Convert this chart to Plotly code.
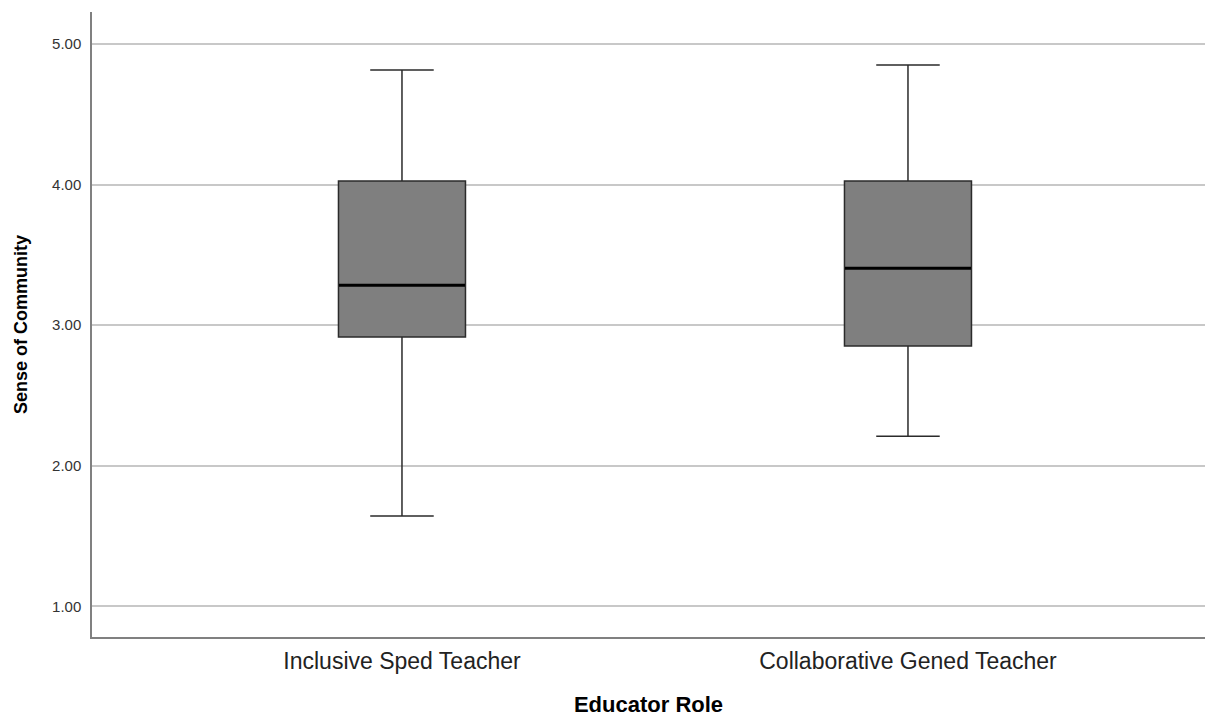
import plotly.graph_objects as go

categories = ["Inclusive Sped Teacher", "Collaborative Gened Teacher"]
lower_whisker = [1.643, 2.21]
q1_values = [2.916, 2.851]
median_values = [3.284, 3.405]
q3_values = [4.025, 4.025]
upper_whisker = [4.815, 4.85]
y_ticks = [1.0, 2.0, 3.0, 4.0, 5.0]
y_tick_labels = ["1.00", "2.00", "3.00", "4.00", "5.00"]

fig = go.Figure()
fig.add_trace(go.Box(
    x=categories,
    q1=q1_values, median=median_values, q3=q3_values,
    lowerfence=lower_whisker, upperfence=upper_whisker,
    fillcolor="#7f7f7f",
    line=dict(color="#2b2b2b", width=1.5),
    width=0.251,
    whiskerwidth=0.5,
    boxpoints=False,
    showlegend=False,
    hoverinfo="skip",
))
fig.add_trace(go.Scatter(
    x=categories, y=median_values, mode="markers",
    marker=dict(symbol="line-ew-open", size=90, color="#000000",
                line=dict(color="#000000", width=3)),
    showlegend=False, hoverinfo="skip",
))

fig.update_layout(
    width=1205, height=717,
    margin=dict(l=92, r=0, t=12, b=80),
    paper_bgcolor="white", plot_bgcolor="white",
    font=dict(family="Liberation Sans, Arial, sans-serif", color="#222222"),
)
fig.update_xaxes(
    type="category",
    range=[-0.6126, 1.587],
    showgrid=False,
    showline=True, linecolor="#808080", linewidth=1.5,
    ticks="", ticklabelstandoff=3,
    tickfont=dict(size=23, color="#222222"),
    title=dict(text="<b>Educator Role</b>", font=dict(size=22, color="#000000"), standoff=26),
)
fig.update_yaxes(
    range=[0.782, 5.227],
    tickvals=y_ticks, ticktext=y_tick_labels,
    showgrid=True, gridcolor="#c8c8c8", gridwidth=1.5,
    zeroline=False,
    showline=True, linecolor="#808080", linewidth=1.5,
    ticks="", ticklabelstandoff=6,
    tickfont=dict(size=15, color="#333333"),
    title=dict(text="<b>Sense of Community</b>", font=dict(size=18, color="#000000"), standoff=20),
)

fig.write_html(
    "out.html",
    config={"displayModeBar": False},
    post_script="document.body.style.margin='0';document.body.style.overflow='hidden';",
)
